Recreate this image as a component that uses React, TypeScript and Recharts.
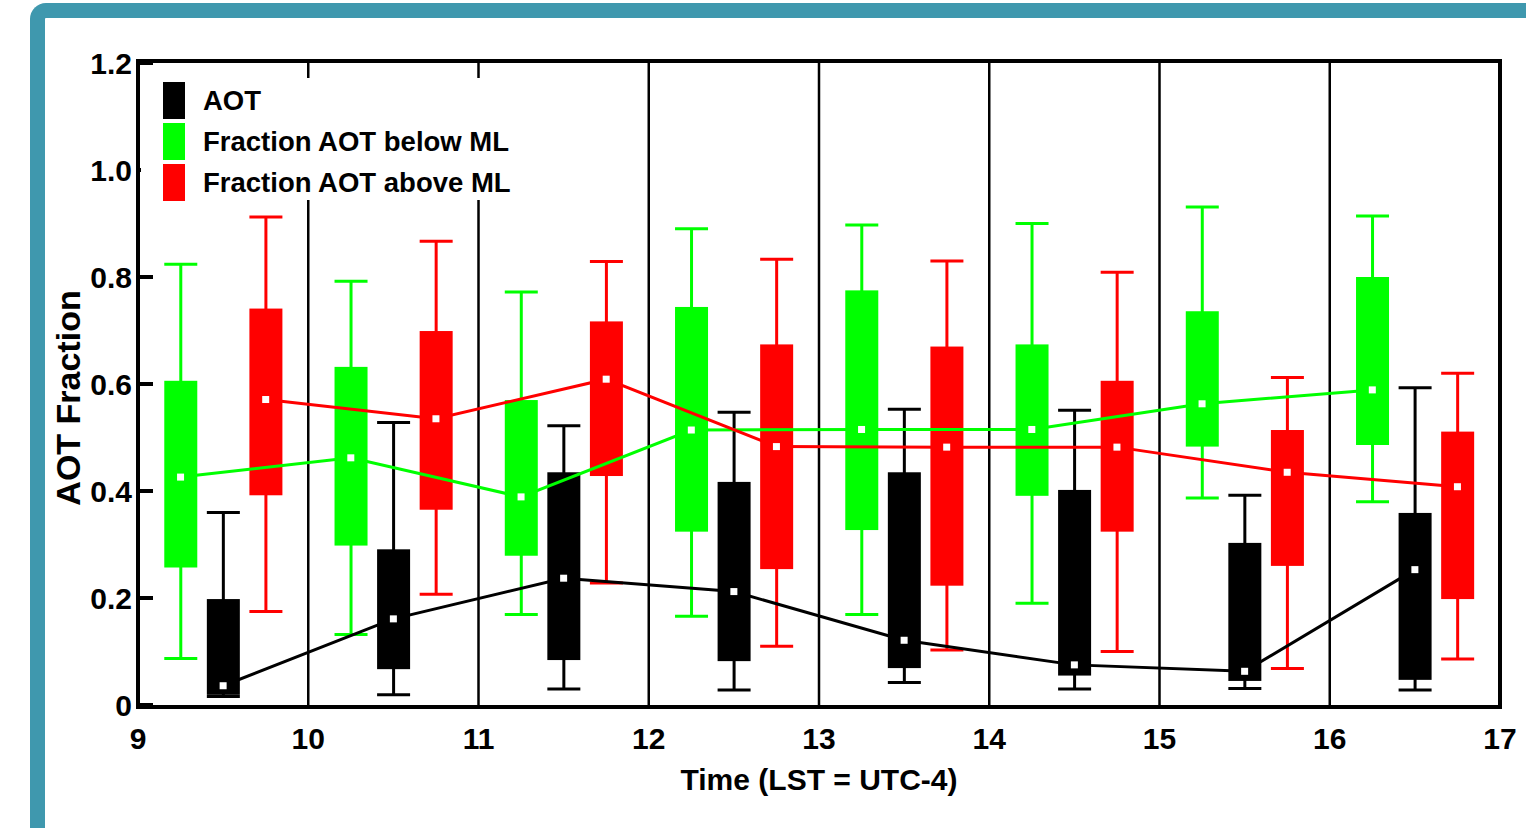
import {
  ComposedChart,
  Bar,
  Line,
  Scatter,
  XAxis,
  YAxis,
  CartesianGrid,
  Legend,
  Label,
} from "recharts";

const FONT = "'Liberation Sans', Arial, Helvetica, sans-serif";

const hours = [9, 10, 11, 12, 13, 14, 15, 16];
const xTicks = [9, 10, 11, 12, 13, 14, 15, 16, 17];
const yTicks = [0, 0.2, 0.4, 0.6, 0.8, 1.0, 1.2];

// AOT (black), box at half past the hour
const aotLo = [0.016, 0.019, 0.03, 0.028, 0.042, 0.03, 0.031, 0.028];
const aotQ1 = [0.019, 0.067, 0.084, 0.082, 0.069, 0.055, 0.045, 0.047];
const aotMed = [0.036, 0.161, 0.237, 0.212, 0.121, 0.075, 0.063, 0.253];
const aotQ3 = [0.198, 0.291, 0.435, 0.417, 0.435, 0.402, 0.303, 0.359];
const aotHi = [0.36, 0.528, 0.522, 0.547, 0.553, 0.551, 0.392, 0.593];

// fraction of AOT below the mixed layer (green), quarter past
const belowLo = [0.087, 0.132, 0.169, 0.166, 0.169, 0.19, 0.387, 0.38];
const belowQ1 = [0.257, 0.298, 0.279, 0.324, 0.327, 0.391, 0.483, 0.486];
const belowMed = [0.426, 0.462, 0.389, 0.514, 0.515, 0.515, 0.563, 0.589];
const belowQ3 = [0.606, 0.632, 0.57, 0.744, 0.775, 0.674, 0.736, 0.8];
const belowHi = [0.824, 0.792, 0.772, 0.89, 0.897, 0.9, 0.931, 0.914];

// fraction of AOT above the mixed layer (red), quarter to
const aboveLo = [0.175, 0.207, 0.228, 0.11, 0.103, 0.1, 0.068, 0.086];
const aboveQ1 = [0.392, 0.365, 0.428, 0.254, 0.223, 0.324, 0.26, 0.198];
const aboveMed = [0.571, 0.535, 0.609, 0.483, 0.482, 0.482, 0.435, 0.408];
const aboveQ3 = [0.741, 0.699, 0.717, 0.674, 0.67, 0.606, 0.514, 0.511];
const aboveHi = [0.912, 0.867, 0.829, 0.833, 0.83, 0.809, 0.612, 0.62];

const series = [
  { name: "AOT", color: "#000000", shift: 0.5, lo: aotLo, q1: aotQ1, med: aotMed, q3: aotQ3, hi: aotHi },
  { name: "Fraction AOT below ML", color: "#00ff00", shift: 0.25, lo: belowLo, q1: belowQ1, med: belowMed, q3: belowQ3, hi: belowHi },
  { name: "Fraction AOT above ML", color: "#ff0000", shift: 0.75, lo: aboveLo, q1: aboveQ1, med: aboveMed, q3: aboveQ3, hi: aboveHi },
];

const rows = series.flatMap((s) =>
  hours.map((h, i) => ({
    x: h + s.shift,
    lo: s.lo[i],
    q1: s.q1[i],
    med: s.med[i],
    q3: s.q3[i],
    hi: s.hi[i],
    color: s.color,
  }))
);

const medianLines = series.map((s) => ({
  name: s.name,
  color: s.color,
  points: hours.map((h, i) => ({ x: h + s.shift, med: s.med[i] })),
}));

// box + whiskers, scaled from the pixel size the library gives the q1..q3 bar
function BoxShape(props: any) {
  const { x, y, width, height, payload } = props;
  if (!payload || width == null) return <g />;
  const top = Math.min(y, y + height);
  const h = Math.abs(height);
  const k = h / (payload.q3 - payload.q1);
  const py = (v: number) => top + (payload.q3 - v) * k;
  const cx = x + width / 2;
  const w = 33;
  const c = payload.color;
  return (
    <g>
      <line x1={cx} x2={cx} y1={py(payload.hi)} y2={py(payload.lo)} stroke={c} strokeWidth={3} />
      <line x1={cx - w / 2} x2={cx + w / 2} y1={py(payload.hi)} y2={py(payload.hi)} stroke={c} strokeWidth={3} />
      <line x1={cx - w / 2} x2={cx + w / 2} y1={py(payload.lo)} y2={py(payload.lo)} stroke={c} strokeWidth={3} />
      <rect x={cx - w / 2} y={top} width={w} height={h} fill={c} />
    </g>
  );
}

function MedianMark(props: any) {
  const { cx, cy } = props;
  if (cx == null || cy == null) return <g />;
  return <rect x={cx - 3.5} y={cy - 3.5} width={7} height={7} fill="#ffffff" />;
}

function YTitle({ viewBox }: any) {
  const cx = viewBox.x + 10;
  const cy = viewBox.y + viewBox.height / 2 + 14;
  return (
    <text
      x={cx}
      y={cy}
      dy="0.36em"
      textAnchor="middle"
      transform={`rotate(-90 ${cx} ${cy})`}
      style={{ fontFamily: FONT, fontSize: 34, fontWeight: 700, fill: "#000" }}
    >
      AOT Fraction
    </text>
  );
}

function XTitle({ viewBox }: any) {
  return (
    <text
      x={viewBox.x + viewBox.width / 2}
      y={viewBox.y + 85}
      textAnchor="middle"
      style={{ fontFamily: FONT, fontSize: 30, fontWeight: 700, fill: "#000" }}
    >
      Time (LST = UTC-4)
    </text>
  );
}

function LegendBox() {
  return (
    <div style={{ background: "#fff", width: 378, height: 122, paddingTop: 2, boxSizing: "border-box" }}>
      {series.map((s) => (
        <div key={s.name} style={{ display: "flex", alignItems: "center", height: 41 }}>
          <div style={{ width: 22, height: 37, background: s.color, marginLeft: 22, marginRight: 18 }} />
          <span style={{ fontFamily: FONT, fontSize: 27.5, fontWeight: 700, color: "#000", whiteSpace: "nowrap" }}>
            {s.name}
          </span>
        </div>
      ))}
    </div>
  );
}

const tickStyle = { fill: "#000", fontSize: 30, fontWeight: 700, fontFamily: FONT };

export default function App() {
  return (
    <div style={{ position: "absolute", left: 0, top: 0, width: 1526, height: 828, background: "#fff", overflow: "hidden" }}>
      <ComposedChart
        width={1526}
        height={828}
        data={rows}
        margin={{ top: 63, right: 25, bottom: 23, left: 58 }}
      >
        <CartesianGrid horizontal={false} vertical stroke="#000" strokeWidth={2.5} />
        <XAxis
          type="number"
          dataKey="x"
          domain={[9, 17]}
          ticks={xTicks}
          interval={0}
          height={100}
          tickLine={false}
          axisLine={false}
          tickSize={0}
          tickMargin={23}
          tick={tickStyle}
        >
          <Label content={XTitle} />
        </XAxis>
        <YAxis
          type="number"
          domain={[0, 1.2]}
          ticks={yTicks}
          interval={0}
          width={80}
          axisLine={false}
          tickSize={-15}
          tickMargin={21}
          tickLine={{ stroke: "#000", strokeWidth: 4 }}
          tick={tickStyle}
          tickFormatter={(v: number) => (v === 0 ? "0" : v.toFixed(1))}
        >
          <Label content={YTitle} />
        </YAxis>
        <YAxis
          yAxisId="right"
          orientation="right"
          type="number"
          domain={[0, 1.2]}
          ticks={yTicks}
          interval={0}
          width={1}
          axisLine={false}
          tick={false}
          tickSize={-13}
          tickLine={{ stroke: "#000", strokeWidth: 4 }}
        />
        <Bar
          dataKey={(d: any) => [d.q1, d.q3]}
          barSize={33}
          shape={(p: any) => <BoxShape {...p} />}
          isAnimationActive={false}
        />
        {medianLines.map((m) => (
          <Line
            key={m.name}
            data={m.points}
            dataKey="med"
            type="linear"
            stroke={m.color}
            strokeWidth={3}
            dot={false}
            activeDot={false}
            isAnimationActive={false}
          />
        ))}
        <Scatter dataKey="med" shape={(p: any) => <MedianMark {...p} />} isAnimationActive={false} />
        <Legend
          layout="vertical"
          align="center"
          verticalAlign="middle"
          wrapperStyle={{ left: 141, top: 78, width: 378 }}
          content={() => <LegendBox />}
        />
      </ComposedChart>
      <div
        style={{
          position: "absolute",
          left: 136,
          top: 59,
          width: 1366,
          height: 650,
          border: "4px solid #000",
          boxSizing: "border-box",
          pointerEvents: "none",
        }}
      />
      <div
        style={{
          position: "absolute",
          left: 30,
          top: 3,
          width: 1600,
          height: 900,
          borderLeft: "15px solid #3f98ae",
          borderTop: "15px solid #3f98ae",
          borderTopLeftRadius: 16,
          pointerEvents: "none",
        }}
      />
    </div>
  );
}
